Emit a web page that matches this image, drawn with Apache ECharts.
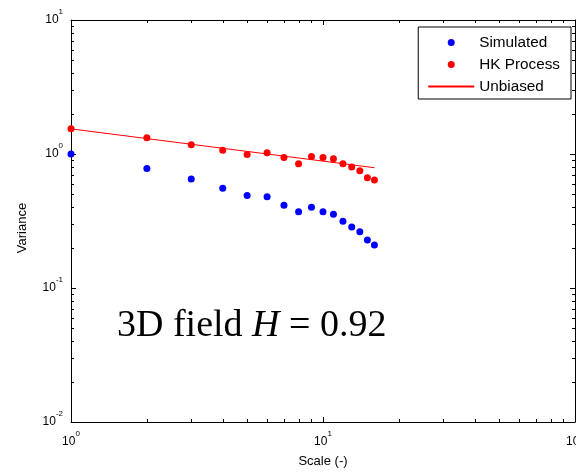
<!DOCTYPE html>
<html>
<head>
<meta charset="utf-8">
<script src="https://cdn.jsdelivr.net/npm/echarts@6/dist/echarts.min.js"></script>
<style>
html,body{margin:0;padding:0;background:#fff;}
#chart{width:576px;height:472px;}
</style>
</head>
<body>
<div id="chart"></div>
<script>
// ---- data ----
const scales = [1, 2, 3, 4, 5, 6, 7, 8, 9, 10, 11, 12, 13, 14, 15, 16];
const simulated = [1.0, 0.78, 0.65, 0.555, 0.49, 0.48, 0.415, 0.37, 0.40, 0.37, 0.355, 0.315, 0.285, 0.263, 0.228, 0.209];
const hkProcess = [1.54, 1.32, 1.17, 1.065, 0.99, 1.02, 0.94, 0.845, 0.96, 0.94, 0.92, 0.845, 0.80, 0.75, 0.665, 0.64];
const unbiasedX = [1, 16];
const unbiasedY = [1.54, 0.79];
const xTickExponents = [0, 1, 2];
const yTickExponents = [-2, -1, 0, 1];
const xMinorTicks = [2, 3, 4, 5, 6, 7, 8, 9, 20, 30, 40, 50, 60, 70, 80, 90];
const yMinorTicks = [0.02, 0.03, 0.04, 0.05, 0.06, 0.07, 0.08, 0.09, 0.2, 0.3, 0.4, 0.5, 0.6, 0.7, 0.8, 0.9, 2, 3, 4, 5, 6, 7, 8, 9];
const seriesNames = ['Simulated', 'HK Process', 'Unbiased'];
const xName = 'Scale (-)';
const yName = 'Variance';

const FONT = 'Liberation Sans, Arial, sans-serif';
const SERIF = 'Liberation Serif, Times New Roman, serif';

function expLabel(exps) {
  return function (v) {
    const e = Math.round(Math.log10(v));
    if (exps.indexOf(e) < 0) return '';
    return '{b|10}{s|' + e + '}';
  };
}
const richLabel = {
  b: { fontSize: 12, fontFamily: FONT, color: '#000', lineHeight: 18, verticalAlign: 'bottom' },
  s: { fontSize: 8, fontFamily: FONT, color: '#000', lineHeight: 9, verticalAlign: 'top' }
};

function minorTickRenderer(dir) {
  return function (params, api) {
    const cs = params.coordSys;
    const len = 3;
    const style = { stroke: '#000', lineWidth: 1 };
    if (dir === 'x') {
      const px = Math.round(api.coord([api.value(0), 1])[0]) + 0.5;
      return { type: 'group', children: [
        { type: 'line', shape: { x1: px, y1: cs.y + cs.height, x2: px, y2: cs.y + cs.height - len }, style: style },
        { type: 'line', shape: { x1: px, y1: cs.y, x2: px, y2: cs.y + len }, style: style }
      ]};
    } else {
      const py = Math.round(api.coord([1, api.value(1)])[1]) + 0.5;
      return { type: 'group', children: [
        { type: 'line', shape: { x1: cs.x, y1: py, x2: cs.x + len, y2: py }, style: style },
        { type: 'line', shape: { x1: cs.x + cs.width, y1: py, x2: cs.x + cs.width - len, y2: py }, style: style }
      ]};
    }
  };
}

const logAxisBase = {
  type: 'log', logBase: 10,
  axisLine: { show: true, onZero: false, lineStyle: { color: '#000', width: 1 } },
  axisTick: { show: true, inside: true, length: 5, lineStyle: { color: '#000' } },
  splitLine: { show: false },
  minorTick: { show: false },
  minorSplitLine: { show: false }
};

const option = {
  animation: false,
  backgroundColor: '#fff',
  grid: { left: 71, right: 1, top: 20, bottom: 50, containLabel: false, outerBoundsMode: 'none' },
  xAxis: [
    Object.assign({}, logAxisBase, {
      min: 1, max: 100, position: 'bottom',
      name: xName, nameLocation: 'middle', nameGap: 33,
      nameTextStyle: { fontSize: 13, fontFamily: FONT, color: '#000' },
      axisLabel: { formatter: expLabel(xTickExponents), rich: richLabel, margin: 8, showMinLabel: true, showMaxLabel: true, hideOverlap: false }
    }),
    Object.assign({}, logAxisBase, {
      min: 1, max: 100, position: 'top', axisLabel: { show: false }
    })
  ],
  yAxis: [
    Object.assign({}, logAxisBase, {
      min: 0.01, max: 10, position: 'left',
      name: yName, nameLocation: 'middle', nameGap: 42, nameRotate: 90,
      nameTextStyle: { fontSize: 13, fontFamily: FONT, color: '#000', padding: [0, 14, 0, 0] },
      axisLabel: { formatter: expLabel(yTickExponents), rich: richLabel, margin: 8, padding: [0, 0, 6, 0], showMinLabel: true, showMaxLabel: true }
    }),
    Object.assign({}, logAxisBase, {
      min: 0.01, max: 10, position: 'right', axisLabel: { show: false }
    })
  ],
  legend: {
    data: [
      { name: seriesNames[0], icon: 'circle' },
      { name: seriesNames[1], icon: 'circle' },
      { name: seriesNames[2], itemStyle: { opacity: 0 } }
    ],
    orient: 'vertical',
    right: 5, top: 27,
    padding: [8, 11, 5, 9],
    itemGap: 7,
    itemWidth: 46, itemHeight: 7,
    backgroundColor: '#fff',
    borderColor: '#000', borderWidth: 1, borderRadius: 0,
    textStyle: { fontSize: 15.3, fontFamily: FONT, color: '#000' }
  },
  graphic: [{
    type: 'text', left: 117, top: 307, z: 100,
    style: {
      text: '{a|3D field }{i|H}{a| = 0.92}',
      rich: {
        a: { fontSize: 38, fontFamily: SERIF, fill: '#000', lineHeight: 42 },
        i: { fontSize: 38, fontFamily: SERIF, fontStyle: 'italic', fill: '#000', lineHeight: 42 }
      }
    }
  }],
  series: [
    {
      name: seriesNames[0], type: 'scatter', symbol: 'circle', symbolSize: 7,
      itemStyle: { color: '#0000ff', opacity: 1 },
      data: scales.map((x, i) => [x, simulated[i]]), z: 3
    },
    {
      name: seriesNames[1], type: 'scatter', symbol: 'circle', symbolSize: 7,
      itemStyle: { color: '#ff0000', opacity: 1 },
      data: scales.map((x, i) => [x, hkProcess[i]]), z: 3
    },
    {
      name: seriesNames[2], type: 'line', symbol: 'none', showSymbol: false,
      lineStyle: { color: '#ff0000', width: 1 }, itemStyle: { color: '#ff0000' },
      data: unbiasedX.map((x, i) => [x, unbiasedY[i]]), z: 2
    },
    {
      type: 'custom', name: 'xminor', silent: true,
      renderItem: minorTickRenderer('x'),
      data: xMinorTicks.map(v => [v, 1])
    },
    {
      type: 'custom', name: 'yminor', silent: true,
      renderItem: minorTickRenderer('y'),
      data: yMinorTicks.map(v => [1, v])
    }
  ]
};

const chart = echarts.init(document.getElementById('chart'), null, { renderer: 'canvas' });
chart.setOption(option);
</script>
</body>
</html>
